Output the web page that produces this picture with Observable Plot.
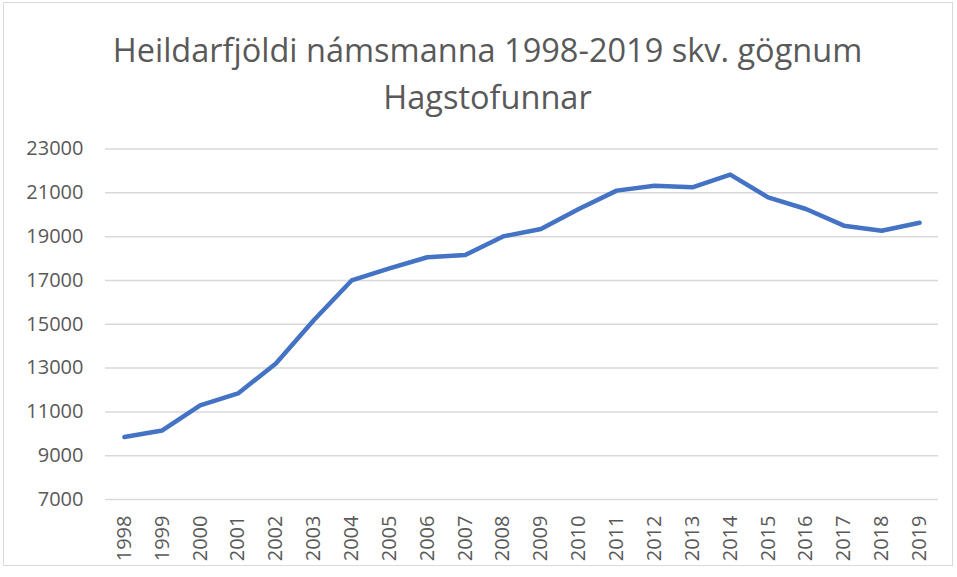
<!DOCTYPE html>
<html>
<head>
<meta charset="utf-8">
<script src="https://cdn.jsdelivr.net/npm/d3@7"></script>
<script src="https://cdn.jsdelivr.net/npm/@observablehq/plot@0.6"></script>
<style>
  html, body { margin: 0; padding: 0; background: #fff; }
  #wrap { position: relative; width: 957px; height: 577px; overflow: hidden; font-family: "Open Sans", sans-serif; }
  #frame { position: absolute; left: 3px; top: 2px; width: 950px; height: 564px; border: 1px solid #d9d9d9; box-sizing: border-box; }
  #title { position: absolute; left: 0; top: 26px; width: 975px; text-align: center; color: #595959; font-size: 32.5px; line-height: 47px; }
  #chart { position: absolute; left: 0; top: 130px; }
</style>
</head>
<body>
<div id="wrap">
  <div id="frame"></div>
  <div id="title">Heildarfjöldi námsmanna 1998-2019 skv. gögnum<br>Hagstofunnar</div>
  <div id="chart"></div>
</div>
<script>
const years = ["1998","1999","2000","2001","2002","2003","2004","2005","2006","2007","2008","2009","2010","2011","2012","2013","2014","2015","2016","2017","2018","2019"];
const students = [9850, 10150, 11300, 11840, 13210, 15180, 17000, 17550, 18060, 18160, 19010, 19350, 20260, 21100, 21320, 21250, 21830, 20790, 20260, 19500, 19270, 19630];
const yTicks = [7000, 9000, 11000, 13000, 15000, 17000, 19000, 21000, 23000];

const data = years.map((y, i) => ({year: y, value: students[i]}));

const chart = Plot.plot({
  width: 957,
  height: 447,
  marginTop: 18.5,
  marginBottom: 78,
  marginLeft: 105,
  marginRight: 19,
  style: { fontFamily: "Open Sans, sans-serif", fontSize: "20px", color: "#595959", background: "transparent" },
  x: { type: "point", domain: years, padding: 0.5, round: false, label: null },
  y: { domain: [7000, 23000], ticks: yTicks, label: null },
  marks: [
    Plot.gridY(yTicks, { stroke: "#d9d9d9", strokeOpacity: 1, strokeWidth: 1.5 }),
    Plot.axisY(yTicks, { tickSize: 0, tickPadding: 22, tickFormat: d => String(d), fill: "#595959", fontSize: 20 }),
    Plot.axisX({ tickSize: 0, tickPadding: 16, tickRotate: -90, fill: "#595959", fontSize: 20 }),
    Plot.line(data, { x: "year", y: "value", stroke: "#4472C4", strokeWidth: 4.5, strokeLinejoin: "round", strokeLinecap: "round" })
  ]
});
document.getElementById("chart").appendChild(chart);
</script>
</body>
</html>
